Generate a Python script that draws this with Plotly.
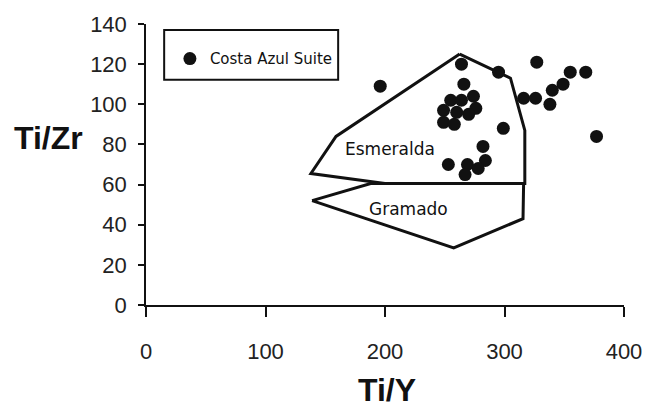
import plotly.graph_objects as go

# Costa Azul Suite samples
ti_y = [196, 264, 295, 327, 355, 368, 349, 340, 338, 316, 326, 377, 266,
        255, 264, 274, 276, 270, 249, 249, 258, 260, 299, 282, 284, 253,
        269, 278, 267]
ti_zr = [109, 120, 116, 121, 116, 116, 110, 107, 100, 103, 103, 84, 110,
         102, 102, 104, 98, 95, 97, 91, 90, 96, 88, 79, 72, 70,
         70, 68, 65]

# Field outlines
esmeralda_x = [262.5, 305, 317, 317, 200, 138, 159, 262.5]
esmeralda_y = [125, 113, 87, 60.5, 60.5, 65.5, 84, 125]
gramado_x = [139, 188, 316, 315.5, 257.5, 139]
gramado_y = [52, 60.5, 60.5, 43, 28.5, 52]

field_labels = ["Esmeralda", "Gramado"]
field_label_x = [204, 220]
field_label_y = [77.5, 48]

x_ticks = [0, 100, 200, 300, 400]
y_ticks = [0, 20, 40, 60, 80, 100, 120, 140]

tick_font = dict(family="Liberation Sans Narrow, Arial Narrow, Liberation Sans",
                 size=22, color="#222")
title_font = dict(family="Liberation Sans Narrow, Arial Narrow, Liberation Sans",
                  size=32, color="#111")
text_font = dict(family="DejaVu Sans", size=17, color="#111")

fig = go.Figure()

for fx, fy in [(esmeralda_x, esmeralda_y), (gramado_x, gramado_y)]:
    fig.add_trace(go.Scatter(x=fx, y=fy, mode="lines",
                             line=dict(color="#111", width=3),
                             showlegend=False, hoverinfo="skip"))

fig.add_trace(go.Scatter(x=ti_y, y=ti_zr, mode="markers",
                         name="Costa Azul Suite",
                         marker=dict(color="#111", size=13)))

for lbl, lx, ly in zip(field_labels, field_label_x, field_label_y):
    fig.add_annotation(x=lx, y=ly, text=lbl, showarrow=False, font=text_font)

# Axis titles, both horizontal
fig.add_annotation(xref="paper", yref="paper", x=-0.203, y=0.594,
                   xanchor="center", yanchor="middle",
                   text="<b>Ti/Zr</b>", showarrow=False, font=title_font)
fig.add_annotation(xref="paper", yref="paper", x=0.505, y=-0.303,
                   xanchor="center", yanchor="middle",
                   text="<b>Ti/Y</b>", showarrow=False, font=title_font)

# Legend frame
fig.add_shape(type="rect", xref="paper", yref="paper",
              x0=0.038, x1=0.402, y0=0.802, y1=0.979,
              line=dict(color="#111", width=2), fillcolor="rgba(0,0,0,0)")

fig.update_layout(
    width=654, height=408,
    margin=dict(l=146, r=30, t=22, b=103),
    paper_bgcolor="white", plot_bgcolor="white",
    showlegend=True,
    legend=dict(x=0.05, y=0.876, xanchor="left", yanchor="middle",
                bgcolor="rgba(0,0,0,0)", borderwidth=0,
                font=dict(family="DejaVu Sans", size=15, color="#111")),
)

fig.update_xaxes(range=[0, 400], tickvals=x_ticks, showgrid=False,
                 zeroline=False, showline=True, linecolor="#111", linewidth=1.5,
                 ticks="outside", ticklen=10, tickcolor="#111", tickwidth=1.5,
                 ticklabelstandoff=16, tickfont=tick_font)
fig.update_yaxes(range=[0, 140], tickvals=y_ticks, showgrid=False,
                 zeroline=False, showline=True, linecolor="#111", linewidth=1.5,
                 ticks="outside", ticklen=6, tickcolor="#111", tickwidth=1.5,
                 ticklabelstandoff=7, tickfont=tick_font)

fig.write_html("out.html")
